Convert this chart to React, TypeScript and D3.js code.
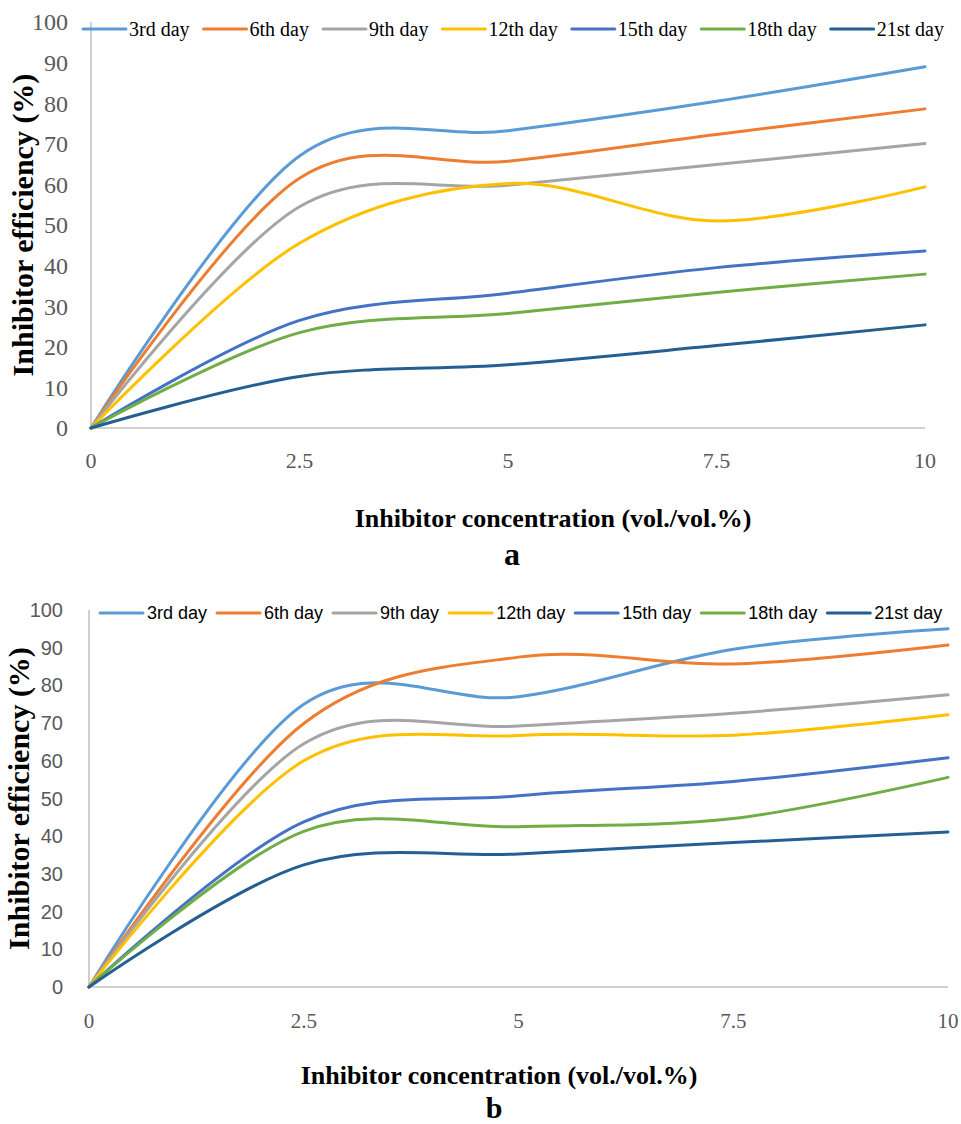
import React from "react";
import * as d3 from "d3";

// Inhibitor concentration categories (vol./vol.%)
const concentrations = [0, 2.5, 5, 7.5, 10];
const xTickLabels = ["0", "2.5", "5", "7.5", "10"];
const yTicks = [0, 10, 20, 30, 40, 50, 60, 70, 80, 90, 100];

const seriesNames = ["3rd day", "6th day", "9th day", "12th day", "15th day", "18th day", "21st day"];
const seriesColors = ["#5B9BD5", "#ED7D31", "#A5A5A5", "#FFC000", "#4472C4", "#70AD47", "#255E91"];

// Panel a: inhibitor efficiency (%) per day
const panelA3rd = [0, 67.0, 73.2, 80.5, 89.0];
const panelA6th = [0, 61.5, 65.7, 72.3, 78.6];
const panelA9th = [0, 54.5, 59.8, 64.9, 70.1];
const panelA12th = [0, 45.5, 60.2, 51.0, 59.4];
const panelA15th = [0, 26.5, 33.2, 39.5, 43.6];
const panelA18th = [0, 23.5, 28.2, 33.4, 37.9];
const panelA21st = [0, 12.7, 15.6, 20.3, 25.4];

// Panel b: inhibitor efficiency (%) per day
const panelB3rd = [0, 75.0, 77.0, 89.6, 95.0];
const panelB6th = [0, 69.9, 87.5, 85.7, 90.7];
const panelB9th = [0, 64.5, 69.2, 72.6, 77.5];
const panelB12th = [0, 60.0, 66.7, 66.8, 72.2];
const panelB15th = [0, 43.8, 50.7, 54.5, 60.8];
const panelB18th = [0, 41.3, 42.5, 44.7, 55.6];
const panelB21st = [0, 32.4, 35.3, 38.3, 41.1];

const panelASeries = [panelA3rd, panelA6th, panelA9th, panelA12th, panelA15th, panelA18th, panelA21st];
const panelBSeries = [panelB3rd, panelB6th, panelB9th, panelB12th, panelB15th, panelB18th, panelB21st];

const SERIF = "'Liberation Serif', 'Times New Roman', serif";
const SANS = "'Liberation Sans', Arial, sans-serif";
const AXIS_GRAY = "#BFBFBF";
const TICK_GRAY = "#595959";

let measureCtx: CanvasRenderingContext2D | null = null;
function textWidth(text: string, font: string): number {
  if (!measureCtx) {
    const c = document.createElement("canvas");
    measureCtx = c.getContext("2d");
  }
  if (!measureCtx) return text.length * 9;
  measureCtx.font = font;
  return measureCtx.measureText(text).width;
}

type PanelProps = {
  series: number[][];
  left: number;
  right: number;
  top: number;
  bottom: number;
  yTickFont: string;
  yTickSize: number;
  yTickRight: number;
  xTickSize: number;
  xTickBaseline: number;
  legendFont: string;
  legendSize: number;
  legendStart: number;
  legendY: number;
  legendTextGap: number;
  legendItemGap: number;
  legendColor: string;
  xTitleBaseline: number;
  xTitleCenter: number;
  xTitleSize: number;
  yTitleX: number;
  letter: string;
  letterX: number;
  letterBaseline: number;
  letterSize: number;
};

function Panel(p: PanelProps) {
  const x = d3.scaleLinear().domain([0, 10]).range([p.left, p.right]);
  const y = d3.scaleLinear().domain([0, 100]).range([p.bottom, p.top]);
  const line = d3
    .line<number>()
    .x((_, i) => x(concentrations[i]))
    .y((v) => y(v))
    .curve(d3.curveCatmullRom.alpha(0));

  // legend layout
  const lineLen = 43;
  const legendItems: { lx: number; tx: number }[] = [];
  let cursor = p.legendStart;
  seriesNames.forEach((name) => {
    const tw = textWidth(name, `${p.legendSize}px ${p.legendFont}`);
    legendItems.push({ lx: cursor, tx: cursor + lineLen + p.legendTextGap });
    cursor += lineLen + p.legendTextGap + tw + p.legendItemGap;
  });

  return (
    <g>
      {/* axes */}
      <line x1={p.left} x2={p.left} y1={p.top} y2={p.bottom} stroke={AXIS_GRAY} strokeWidth={1.5} />
      <line x1={p.left} x2={p.right} y1={p.bottom} y2={p.bottom} stroke={AXIS_GRAY} strokeWidth={1.5} />

      {/* y tick labels */}
      {yTicks.map((t) => (
        <text
          key={"y" + t}
          x={p.yTickRight}
          y={y(t)}
          dy="0.35em"
          textAnchor="end"
          fontFamily={p.yTickFont}
          fontSize={p.yTickSize}
          fill={TICK_GRAY}
        >
          {t}
        </text>
      ))}

      {/* x tick labels */}
      {concentrations.map((c, i) => (
        <text
          key={"x" + c}
          x={x(c)}
          y={p.xTickBaseline}
          textAnchor="middle"
          fontFamily={SERIF}
          fontSize={p.xTickSize}
          fill={TICK_GRAY}
        >
          {xTickLabels[i]}
        </text>
      ))}

      {/* series */}
      {p.series.map((vals, i) => (
        <path
          key={seriesNames[i]}
          d={line(vals) || ""}
          fill="none"
          stroke={seriesColors[i]}
          strokeWidth={3}
          strokeLinecap="round"
          strokeLinejoin="round"
        />
      ))}

      {/* legend */}
      {seriesNames.map((name, i) => (
        <g key={"lg" + name}>
          <line
            x1={legendItems[i].lx}
            x2={legendItems[i].lx + lineLen}
            y1={p.legendY}
            y2={p.legendY}
            stroke={seriesColors[i]}
            strokeWidth={3}
            strokeLinecap="round"
          />
          <text
            x={legendItems[i].tx}
            y={p.legendY}
            dy="0.35em"
            fontFamily={p.legendFont}
            fontSize={p.legendSize}
            fill={p.legendColor}
          >
            {name}
          </text>
        </g>
      ))}

      {/* axis titles */}
      <text
        x={p.xTitleCenter}
        y={p.xTitleBaseline}
        textAnchor="middle"
        fontFamily={SERIF}
        fontWeight="bold"
        fontSize={p.xTitleSize}
        fill="#000"
      >
        Inhibitor concentration (vol./vol.%)
      </text>
      <text
        transform={`translate(${p.yTitleX},${(p.top + p.bottom) / 2}) rotate(-90)`}
        textAnchor="middle"
        fontFamily={SERIF}
        fontWeight="bold"
        fontSize={30}
        fill="#000"
      >
        Inhibitor efficiency (%)
      </text>

      {/* panel letter */}
      <text
        x={p.letterX}
        y={p.letterBaseline}
        textAnchor="middle"
        fontFamily={SERIF}
        fontWeight="bold"
        fontSize={p.letterSize}
        fill="#000"
      >
        {p.letter}
      </text>
    </g>
  );
}

export default function App() {
  return (
    <svg
      width={961}
      height={1124}
      viewBox="0 0 961 1124"
      style={{ position: "absolute", left: 0, top: 0, background: "#fff" }}
    >
      <rect x={0} y={0} width={961} height={1124} fill="#fff" />
      <Panel
        series={panelASeries}
        left={91}
        right={925}
        top={22}
        bottom={428}
        yTickFont={SERIF}
        yTickSize={24}
        yTickRight={68}
        xTickSize={22}
        xTickBaseline={468}
        legendFont={SERIF}
        legendSize={20}
        legendStart={83}
        legendY={29}
        legendTextGap={3}
        legendItemGap={14}
        legendColor="#000"
        xTitleBaseline={527}
        xTitleCenter={553}
        xTitleSize={26}
        yTitleX={33}
        letter="a"
        letterX={512}
        letterBaseline={565}
        letterSize={32}
      />
      <Panel
        series={panelBSeries}
        left={89}
        right={948}
        top={610}
        bottom={987}
        yTickFont={SANS}
        yTickSize={20}
        yTickRight={63}
        xTickSize={21}
        xTickBaseline={1028}
        legendFont={SANS}
        legendSize={18}
        legendStart={100}
        legendY={613}
        legendTextGap={4}
        legendItemGap={10}
        legendColor="#000"
        xTitleBaseline={1084}
        xTitleCenter={499}
        xTitleSize={26}
        yTitleX={29}
        letter="b"
        letterX={494}
        letterBaseline={1118}
        letterSize={30}
      />
    </svg>
  );
}
